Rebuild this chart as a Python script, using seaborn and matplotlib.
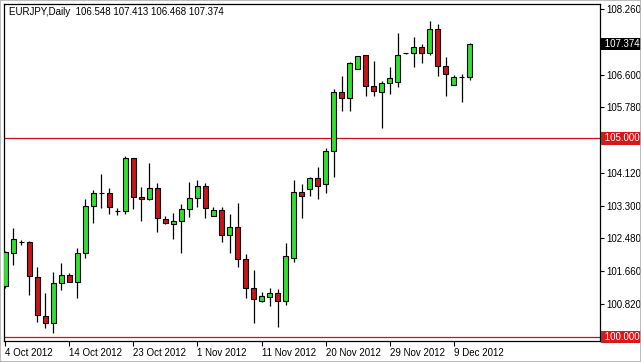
import numpy as np
import pandas as pd
import matplotlib
matplotlib.use("Agg")
import matplotlib.pyplot as plt
import matplotlib.transforms as mtrans
from matplotlib.patches import Rectangle
import seaborn as sns

# ---------------- data ----------------
symbol_title = "EURJPY,Daily  106.548 107.413 106.468 107.374"

opens = [101.284, 102.107, 102.380, 102.400, 101.518, 100.536, 100.345, 101.352, 101.561, 101.392,
         102.107, 103.298, 103.618, 103.618, 103.180, 103.180, 104.499, 103.517, 103.467, 103.744,
         102.963, 102.852, 102.913, 103.215, 103.492, 103.809, 103.039, 103.190, 102.560, 102.762,
         101.956, 101.226, 100.914, 101.015, 101.100, 100.914, 101.989, 103.651, 103.719, 104.011,
         103.844, 104.675, 106.161, 106.010, 106.740, 107.092, 106.319, 106.176, 106.387, 106.412,
         107.142, 107.142, 107.294, 107.142, 107.754, 106.830, 106.337, 106.538, 106.548]

closes = [102.140, 102.455, 102.388, 101.536, 100.554, 100.345, 101.352, 101.561, 101.392, 102.107,
          103.298, 103.618, 103.622, 103.265, 103.184, 104.499, 103.517, 103.467, 103.744, 102.988,
          102.863, 102.913, 103.215, 103.492, 103.809, 103.240, 103.197, 102.568, 102.762, 101.956,
          101.226, 100.949, 101.025, 101.100, 100.914, 102.039, 103.651, 103.562, 104.011, 103.809,
          104.683, 106.161, 106.010, 106.891, 107.075, 106.307, 106.181, 106.387, 106.513, 107.100,
          107.146, 107.294, 107.158, 107.754, 106.830, 106.614, 106.538, 106.544, 107.374]

highs = [102.165, 102.744, 102.442, 102.417, 101.770, 101.100, 101.644, 101.855, 101.604, 102.233,
         103.467, 103.701, 104.096, 103.744, 103.255, 104.557, 104.507, 103.769, 104.373, 103.870,
         103.046, 103.114, 103.341, 103.895, 103.953, 103.877, 103.265, 103.280, 103.089, 103.381,
         102.090, 101.687, 101.140, 101.241, 101.201, 102.374, 103.953, 103.852, 104.036, 104.287,
         104.751, 106.244, 106.579, 106.931, 107.087, 107.100, 106.956, 106.445, 106.790, 107.661,
         107.150, 107.545, 107.377, 107.956, 107.880, 107.042, 106.596, 106.621, 107.413]

lows = [101.234, 101.813, 102.316, 101.057, 100.385, 100.219, 100.093, 101.183, 101.385, 100.974,
        101.996, 102.863, 103.240, 103.089, 103.072, 103.089, 103.223, 102.928, 103.460, 102.636,
        102.837, 102.460, 102.107, 103.014, 103.280, 102.988, 103.034, 102.384, 102.122, 101.755,
        100.974, 100.360, 100.889, 100.788, 100.259, 100.806, 101.896, 102.988, 103.550, 103.467,
        103.618, 104.036, 105.690, 105.690, 106.735, 106.055, 106.067, 105.254, 106.110, 106.302,
        107.135, 106.805, 106.891, 107.100, 106.579, 106.075, 106.332, 105.924, 106.468]

date_tick_bars = [0, 8, 16, 24, 32, 40, 48, 56]
date_tick_labels = ["4 Oct 2012", "14 Oct 2012", "23 Oct 2012", "1 Nov 2012",
                    "11 Nov 2012", "20 Nov 2012", "29 Nov 2012", "9 Dec 2012"]

price_ticks = [100.820, 101.660, 102.480, 103.300, 104.120, 104.950, 105.780, 106.600, 107.430, 108.260]
price_tick_labels = ["100.820", "101.660", "102.480", "103.300", "104.120", "", "105.780",
                     "106.600", "", "108.260"]
hlines = [105.000, 100.000]
last_close = 107.374

# ---------------- style ----------------
sns.set_theme(style="white")
plt.rcParams['font.family'] = ['Liberation Sans', 'DejaVu Sans']

df = pd.DataFrame({"open": opens, "high": highs, "low": lows, "close": closes})
df["bar"] = np.arange(len(df))
df["up"] = df["close"] >= df["open"]

W, H = 641, 362
fig = plt.figure(figsize=(W / 100, H / 100), dpi=100)
fig.patch.set_facecolor("white")
left_px, right_px, top_px, bot_px = 4, 599.5, 4, 341
ax = fig.add_axes([left_px / W, (H - bot_px) / H, (right_px - left_px) / W, (bot_px - top_px) / H])
ax.set_facecolor("white")

green = "#2fe02f"
red = "#c8141a"

# wicks
ax.vlines(df["bar"], df["low"], df["high"], color="black", linewidth=0.9, zorder=2)
# bodies
bottoms = np.minimum(df["open"], df["close"])
heights = np.abs(df["close"] - df["open"])
colors = [green if u else red for u in df["up"]]
ax.bar(df["bar"], heights, bottom=bottoms, width=0.62, color=colors,
       edgecolor="black", linewidth=0.8, zorder=3)

for v in hlines:
    ax.axhline(v, color="#d01010", linewidth=0.9, zorder=1)

# axes limits from calibration
def y_to_price(ypx):
    return 100 + (337 - ypx) / 39.72

ax.set_ylim(y_to_price(bot_px), y_to_price(top_px))
ax.set_xlim(-0.16, 74.2)

for s in ax.spines.values():
    s.set_visible(True)
    s.set_color("black")
    s.set_linewidth(0.9)

ax.yaxis.tick_right()
ax.set_yticks(price_ticks)
ax.set_yticklabels(price_tick_labels)
ax.set_xticks(date_tick_bars)
ax.set_xticklabels(date_tick_labels)
ax.tick_params(axis="y", which="major", right=True, left=False, length=3, width=0.8,
               direction="out", pad=2, labelsize=7, colors="black")
ax.tick_params(axis="x", which="major", bottom=True, length=3.5, width=0.8,
               direction="out", pad=1.5, labelsize=7, colors="black")
for lbl in ax.get_xticklabels():
    lbl.set_horizontalalignment("left")
ax.grid(False)

# highlighted price labels
trans = mtrans.blended_transform_factory(ax.transAxes, ax.transData)
xoff = 1.0 + 2.5 / (right_px - left_px)
for v, fc in [(105.000, "#d81818"), (100.000, "#d81818"), (last_close, "black")]:
    ax.text(xoff, v, f" {v:.3f} ", transform=trans, ha="left", va="center",
            fontsize=7, color="white",
            bbox=dict(boxstyle="square,pad=0.12", fc=fc, ec="none"), zorder=5, clip_on=False)

fig.text(9 / W, 1 - 12 / H, symbol_title, fontsize=7, color="black", ha="left", va="center")

fig.patches.append(Rectangle((0, 0), 1, 1, transform=fig.transFigure, fill=False,
                             edgecolor="#b0b0b0", linewidth=1.2))

fig.savefig("out.png", dpi=100)
